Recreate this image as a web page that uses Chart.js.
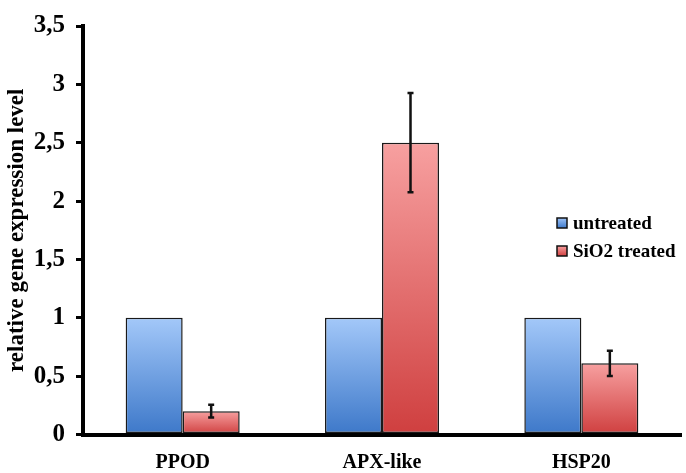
<!DOCTYPE html>
<html>
<head>
<title>gene expression</title>
<script src="https://cdn.jsdelivr.net/npm/chart.js@4.4.1/dist/chart.umd.min.js"></script>
<style>
  body { margin: 0; background: #ffffff; }
  #wrap { width: 686px; height: 473px; position: relative; }
</style>
</head>
<body>
<div id="wrap">
  <canvas id="bars"></canvas>
</div>

<script>
// data
var categories = ['PPOD', 'APX-like', 'HSP20'];
var seriesNames = ['untreated', 'SiO2 treated'];
var untreated = [1, 1, 1];
var sio2 = [0.2, 2.5, 0.61];
var sio2Err = [0.055, 0.425, 0.108];
var yTicks = [0, 0.5, 1, 1.5, 2, 2.5, 3, 3.5];

var FONT = '"Liberation Serif", "Times New Roman", serif';

// vertical gradient from top of each bar down to zero
function barGradient(topCol, botCol) {
  return function (c) {
    var chart = c.chart;
    if (!chart.chartArea || !c.parsed) return topCol;
    var y = chart.scales.y;
    var g = chart.ctx.createLinearGradient(0, y.getPixelForValue(c.parsed.y), 0, y.getPixelForValue(0));
    g.addColorStop(0, topCol);
    g.addColorStop(1, botCol);
    return g;
  };
}

// error bars + legend inside the plot
var extras = {
  id: 'extras',
  afterDatasetsDraw: function (chart) {
    var ctx = chart.ctx;
    var meta = chart.getDatasetMeta(1);
    var y = chart.scales.y;
    ctx.save();
    ctx.strokeStyle = '#111';
    meta.data.forEach(function (bar, i) {
      var v = sio2[i], e = sio2Err[i];
      var yt = y.getPixelForValue(v + e), yb = y.getPixelForValue(v - e);
      ctx.lineWidth = 2.5;
      ctx.beginPath();
      ctx.moveTo(bar.x, yt); ctx.lineTo(bar.x, yb);
      ctx.moveTo(bar.x - 3, yt); ctx.lineTo(bar.x + 3, yt);
      ctx.moveTo(bar.x - 3, yb); ctx.lineTo(bar.x + 3, yb);
      ctx.stroke();
    });

    // legend
    var cols = [['#9dc3f8', '#3f7acb'], ['#f8a0a0', '#d04040']];
    var rows = [223, 251];
    ctx.font = 'bold 19px ' + FONT;
    ctx.textBaseline = 'middle';
    ctx.textAlign = 'left';
    seriesNames.forEach(function (name, i) {
      var g = ctx.createLinearGradient(0, rows[i] - 5, 0, rows[i] + 5);
      g.addColorStop(0, cols[i][0]);
      g.addColorStop(1, cols[i][1]);
      ctx.fillStyle = g;
      ctx.fillRect(557, rows[i] - 5, 10, 10);
      ctx.lineWidth = 1.5;
      ctx.strokeStyle = '#111';
      ctx.strokeRect(557, rows[i] - 5, 10, 10);
      ctx.fillStyle = '#000';
      ctx.fillText(name, 573, rows[i] + 1);
    });
    ctx.restore();
  }
};

var ctx = document.getElementById('bars').getContext('2d');
var chart = new Chart(ctx, {
  type: 'bar',
  data: {
    labels: categories,
    datasets: [
      {
        label: seriesNames[0],
        data: untreated,
        backgroundColor: barGradient('#a3c8f9', '#3d78c9'),
        borderColor: '#1a1a1a',
        borderWidth: 1.5,
        borderSkipped: false
      },
      {
        label: seriesNames[1],
        data: sio2,
        backgroundColor: barGradient('#f7a0a0', '#cf3f3f'),
        borderColor: '#1a1a1a',
        borderWidth: 1.5,
        borderSkipped: false
      }
    ]
  },
  options: {
    responsive: true,
    maintainAspectRatio: false,
    animation: false,
    layout: { padding: { top: 13, right: 5, left: 0, bottom: 0 } },
    plugins: {
      legend: { display: false },
      tooltip: { enabled: false }
    },
    datasets: { bar: { categoryPercentage: 0.572, barPercentage: 1 } },
    scales: {
      x: {
        grid: { display: false, drawTicks: false },
        border: { color: '#000', width: 4 },
        ticks: { color: '#000', padding: 16, font: { family: FONT, size: 20, weight: 'bold' } },
        afterFit: function (s) { s.height = 38.5; }
      },
      y: {
        min: 0,
        max: 3.5,
        afterBuildTicks: function (s) { s.ticks = yTicks.map(function (v) { return { value: v }; }); },
        grid: { drawOnChartArea: false, drawTicks: true, tickLength: 7, color: '#000', lineWidth: 3 },
        border: { color: '#000', width: 4 },
        ticks: {
          color: '#000',
          padding: 11,
          font: { family: FONT, size: 25, weight: 'bold' },
          callback: function (v) { return String(v).replace('.', ','); }
        },
        title: {
          display: true,
          text: 'relative gene expression level',
          color: '#000',
          padding: 3,
          font: { family: FONT, size: 23, weight: 'bold' }
        },
        afterFit: function (s) { s.width = 83; }
      }
    }
  },
  plugins: [extras]
});
</script>
</body>
</html>
